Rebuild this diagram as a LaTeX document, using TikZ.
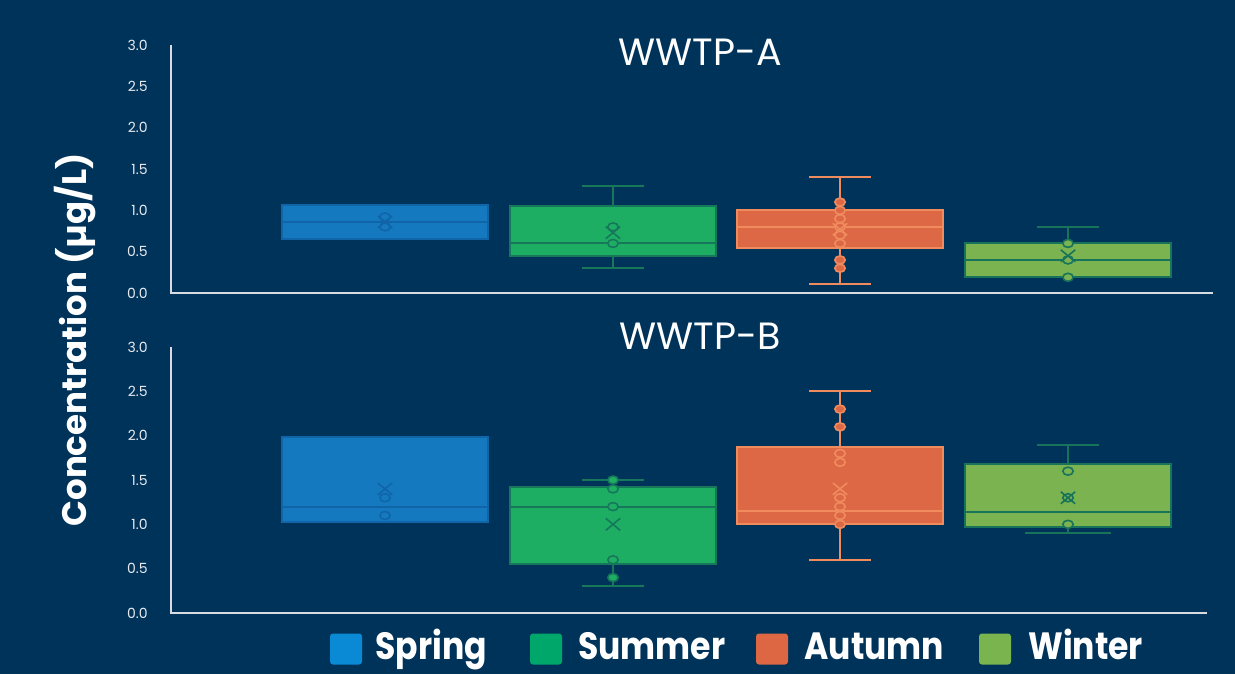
\documentclass[tikz,border=0pt]{standalone}
\usepackage{fontspec}
\setmainfont{Poppins}
\usepackage{tikz}
\usetikzlibrary{positioning}

\definecolor{navy}{HTML}{00335A}
\definecolor{axisgray}{HTML}{D8DCE0}
\definecolor{tickgray}{HTML}{E8EAEE}
\definecolor{springfill}{HTML}{1479BF}
\definecolor{springline}{HTML}{1065A8}
\definecolor{summerfill}{HTML}{1DAE64}
\definecolor{summerline}{HTML}{17775A}
\definecolor{autumnfill}{HTML}{DD6845}
\definecolor{autumnline}{HTML}{F08B5E}
\definecolor{winterfill}{HTML}{7AB350}
\definecolor{winterline}{HTML}{17735A}
\definecolor{springkey}{HTML}{0A8AD5}
\definecolor{summerkey}{HTML}{00A76A}
\definecolor{autumnkey}{HTML}{DE6743}
\definecolor{winterkey}{HTML}{79B44E}

\begin{document}
\begin{tikzpicture}[
  x=0.5pt, y=-0.5pt,
  axisline/.style={draw=axisgray, line width=1pt},
  tick/.style={font=\fontsize{7}{8}\selectfont, text=tickgray, anchor=east, inner sep=0pt},
  paneltitle/.style={font=\fontsize{19}{22}\selectfont, text=white},
  iqr/.style={line width=1pt},
  whisk/.style={line width=1pt},
  dot/.style={line width=0.8pt},
  keybox/.style={rounded corners=1.5pt, minimum width=16pt, minimum height=15.5pt, inner sep=0pt},
  keytext/.style={font=\bfseries\fontsize{19}{21}\selectfont, text=white, inner sep=0pt,
                  anchor=base west, xscale=0.87}
]
  % background
  \fill[navy] (0,0) rectangle (1235,674);
  \useasboundingbox (0,0) rectangle (1235,674);

  % axis label and titles
  \node[rotate=90, font=\bfseries\fontsize{17}{20}\selectfont, text=white] (ylab) at (75,340) {Concentration (µg/L)};
  \node[paneltitle] (titleA) at (700,52) {WWTP-A};
  \node[paneltitle] (titleB) at (700,336) {WWTP-B};

  % WWTP-A
  \begin{scope}[shift={(0pt,-146.5pt)}, y=41.33pt]
    \foreach \v [count=\i] in {0.0,0.5,1.0,1.5,2.0,2.5,3.0}
      \node[tick] (tickA\i) at (148,\v) {\v};
    \foreach \c/\qa/\md/\qb/\wl/\wh/\cwa/\cwb/\mn/\clr/\pts in {
      385/0.65/0.86/1.06/0.65/1.06/0/0/0.86/spring/{0.92,0.8},
      613/0.45/0.6/1.05/0.3/1.3/31/31/0.73/summer/{0.8,0.6},
      840/0.55/0.8/1.0/0.11/1.4/31/31/0.77/autumn/{1.1,1.0,0.9,0.8,0.7,0.6,0.4,0.3},
      1068/0.19/0.4/0.6/0.19/0.8/31/31/0.45/winter/{0.6,0.4,0.19}}{
      \draw[whisk, \clr line] (\c,\wl) -- (\c,\wh);
      \draw[whisk, \clr line] (\c-\cwa,\wh) -- (\c+\cwa,\wh);
      \draw[whisk, \clr line] (\c-\cwb,\wl) -- (\c+\cwb,\wl);
      \draw[iqr, \clr line, fill=\clr fill] (\c-103,\qa) rectangle (\c+103,\qb);
      \draw[iqr, \clr line] (\c-103,\md) -- (\c+103,\md);
      \foreach \p in \pts
        \draw[dot, \clr line, fill=\clr fill] (\c,\p) ellipse [x radius=2.6pt, y radius=2pt];
      \draw[dot, \clr line] (\c,\mn) ++(-3.6pt,-3pt) -- ++(7.2pt,6pt) ++(0pt,-6pt) -- ++(-7.2pt,6pt);
    }
    \draw[axisline] (171,3.0) -- (171,0) -- (1213,0);
  \end{scope}

  % WWTP-B
  \begin{scope}[shift={(0pt,-306.5pt)}, y=44.33pt]
    \foreach \v [count=\i] in {0.0,0.5,1.0,1.5,2.0,2.5,3.0}
      \node[tick] (tickB\i) at (148,\v) {\v};
    \foreach \c/\qa/\md/\qb/\wl/\wh/\cwa/\cwb/\mn/\clr/\pts in {
      385/1.03/1.2/1.98/1.03/1.98/0/0/1.4/spring/{1.3,1.1},
      613/0.55/1.2/1.42/0.3/1.5/31/31/1.0/summer/{1.5,1.4,1.2,0.6,0.4},
      840/1.0/1.15/1.87/0.6/2.5/31/31/1.4/autumn/{2.3,2.1,1.8,1.7,1.3,1.2,1.1,1.0},
      1068/0.97/1.14/1.68/0.9/1.9/31/43/1.3/winter/{1.6,1.3,1.0}}{
      \draw[whisk, \clr line] (\c,\wl) -- (\c,\wh);
      \draw[whisk, \clr line] (\c-\cwa,\wh) -- (\c+\cwa,\wh);
      \draw[whisk, \clr line] (\c-\cwb,\wl) -- (\c+\cwb,\wl);
      \draw[iqr, \clr line, fill=\clr fill] (\c-103,\qa) rectangle (\c+103,\qb);
      \draw[iqr, \clr line] (\c-103,\md) -- (\c+103,\md);
      \foreach \p in \pts
        \draw[dot, \clr line, fill=\clr fill] (\c,\p) ellipse [x radius=2.6pt, y radius=2pt];
      \draw[dot, \clr line] (\c,\mn) ++(-3.6pt,-3pt) -- ++(7.2pt,6pt) ++(0pt,-6pt) -- ++(-7.2pt,6pt);
    }
    \draw[axisline] (171,3.0) -- (171,0) -- (1207,0);
  \end{scope}

  % legend
  \node[keybox, fill=springkey] (keySpring) at (346,649) {};
  \node[keytext] (txtSpring) at (375,659) {Spring};
  \node[keybox, fill=summerkey] (keySummer) at (546,649) {};
  \node[keytext] (txtSummer) at (578,659) {Summer};
  \node[keybox, fill=autumnkey] (keyAutumn) at (772,649) {};
  \node[keytext] (txtAutumn) at (804,659) {Autumn};
  \node[keybox, fill=winterkey] (keyWinter) at (995,649) {};
  \node[keytext] (txtWinter) at (1028,659) {Winter};
\end{tikzpicture}
\end{document}
